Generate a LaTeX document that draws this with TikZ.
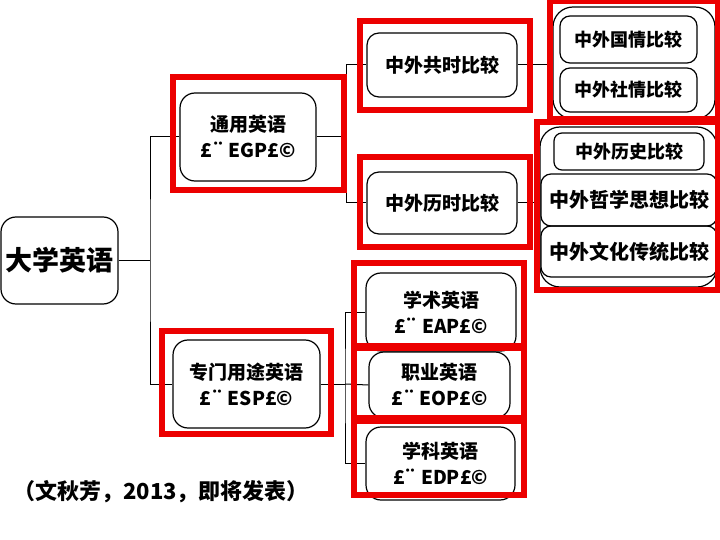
\documentclass[tikz,border=0pt]{standalone}
\usepackage{fontspec}
\setmainfont{Noto Sans CJK SC}
\usepackage{tikz}
\definecolor{hired}{RGB}{236,0,0}

\begin{document}
\begin{tikzpicture}[x=1pt,y=-1pt,
        box/.style={draw,line width=1.2pt,rounded corners=15pt,align=center,inner sep=0pt,font=\fontsize{19}{26}\selectfont\bfseries},
        subbox/.style={box,rounded corners=10pt,font=\fontsize{18}{22}\selectfont\bfseries},
        frame/.style={draw=hired,line width=6.5pt},
        link/.style={line width=1pt}]
        \useasboundingbox (0,0) rectangle (720,540);
        \node [box,minimum width=117pt,minimum height=87pt,font=\fontsize{27}{30}\selectfont\bfseries] (root) at (59.5,260.5) {大学英语};
        \node [box,minimum width=136pt,minimum height=88pt] (egp) at (248,137) {通用英语\\£¨ EGP£©};
        \node [box,minimum width=147pt,minimum height=88pt] (esp) at (246.5,384) {专门用途英语\\£¨ ESP£©};
        \node [box,minimum width=150pt,minimum height=64pt,rounded corners=12pt] (gongshi) at (442,65) {中外共时比较};
        \node [box,minimum width=150pt,minimum height=62pt,rounded corners=12pt] (lishi) at (442,203) {中外历时比较};
        \node [box,minimum width=150pt,minimum height=78pt] (eap) at (441,312) {学术英语\\£¨ EAP£©};
        \node [box,minimum width=141pt,minimum height=66pt] (eop) at (439.5,385) {职业英语\\£¨ EOP£©};
        \node [box,minimum width=149pt,minimum height=73pt] (edp) at (440.5,463.5) {学科英语\\£¨ EDP£©};
        \node [box,minimum width=162pt,minimum height=112pt,rounded corners=20pt] (g1) at (634,63) {};
        \node [box,minimum width=177pt,minimum height=160pt,rounded corners=20pt] (g2) at (628.5,207) {};
        \node [subbox,minimum width=137pt,minimum height=47pt] (guoqing) at (628.5,39.5) {中外国情比较};
        \node [subbox,minimum width=137pt,minimum height=44pt] (sheqing) at (628.5,90) {中外社情比较};
        \node [subbox,minimum width=150pt,minimum height=37pt,rounded corners=8pt] (lishibi) at (629,151.5) {中外历史比较};
        \node [subbox,minimum width=176pt,minimum height=52pt,font=\fontsize{20}{24}\selectfont\bfseries] (zhexue) at (629,200) {中外哲学思想比较};
        \node [subbox,minimum width=176pt,minimum height=51pt,font=\fontsize{20}{24}\selectfont\bfseries] (wenhua) at (629,251.5) {中外文化传统比较};
        \node [font=\fontsize{22}{24}\selectfont\bfseries] (cite) at (161,492) {（文秋芳，2013，即将发表）};
        \coordinate (r1) at (150,260.5);
        \coordinate (b1) at (346,137);
        \coordinate (b2) at (345,384);
        \draw [link] (root.east) -- (r1);
        \draw [link] (egp.west) -| (r1) |- (esp.west);
        \draw [link] (egp.east) -- (b1);
        \draw [link] (gongshi.west) -| (b1) |- (lishi.west);
        \draw [link] (gongshi.east) -- (gongshi.east -| g1.west);
        \draw [link] (lishi.east) -- (lishi.east -| g2.west);
        \draw [link] (esp.east) -- (b2);
        \draw [link] (eap.west) -| (b2) |- (edp.west);
        \draw [link] (eop.west) -- (b2);
        \draw [frame] (173,77) rectangle (344,190);
        \draw [frame] (162,331) rectangle (331,434);
        \draw [frame] (360,21) rectangle (530,110);
        \draw [frame] (360,157) rectangle (530,247);
        \draw [frame] (550,1) rectangle (718,119);
        \draw [frame] (537,122) rectangle (718,290);
        \draw [frame] (354,263) rectangle (524,346);
        \draw [frame] (354,348) rectangle (524,418);
        \draw [frame] (354,421) rectangle (524,495);
    \end{tikzpicture}
\end{document}
